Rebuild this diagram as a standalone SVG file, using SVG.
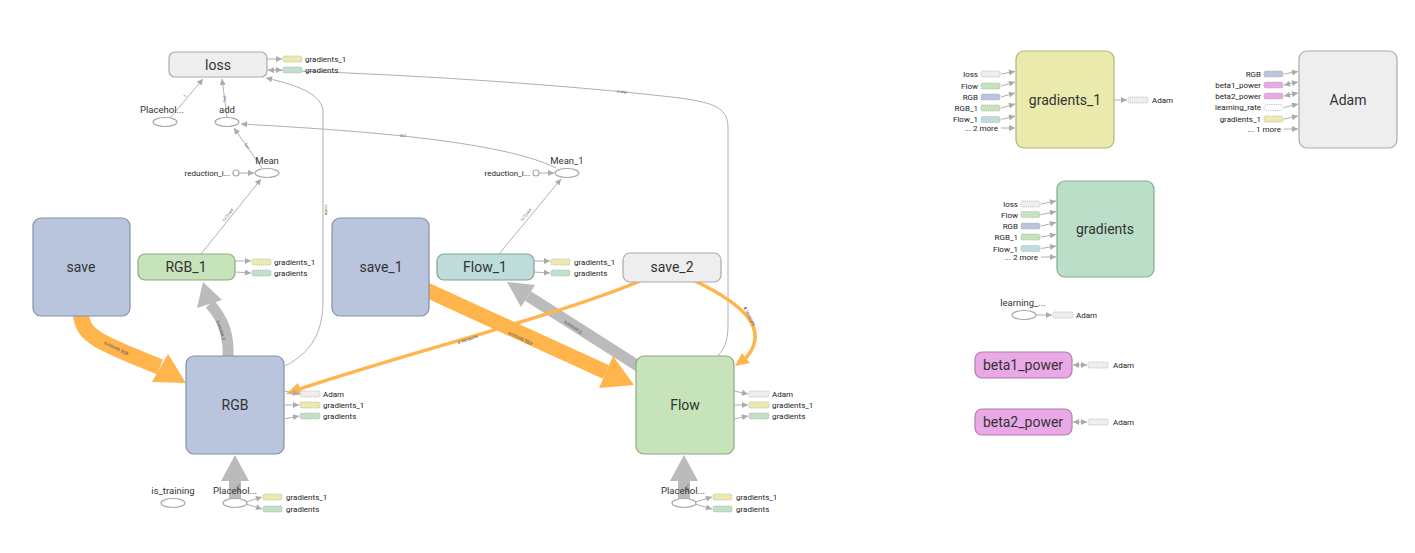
<svg xmlns="http://www.w3.org/2000/svg" width="1415" height="553" viewBox="0 0 1415 553">
<style>
text{font-family:Roboto,"Liberation Sans",sans-serif;fill:#333}
.nl{font-size:14px;text-anchor:middle}
.sl{font-size:9.5px;text-anchor:middle}
.bl{font-size:8px;fill:#222}
.il{font-size:8px;text-anchor:end;fill:#222}
.el{font-size:5px;fill:#555;text-anchor:middle}
.tiny{font-size:4px;fill:#666;text-anchor:middle}
.blue{fill:#b9c4dd;stroke:#8790a8;stroke-width:1.2}
.green{fill:#c7e3b9;stroke:#8dab7c;stroke-width:1.2}
.teal{fill:#bedcda;stroke:#7fa2a0;stroke-width:1.2}
.grey{fill:#eeeeee;stroke:#ababab;stroke-width:1.2}
.yel{fill:#eaeaad;stroke:#b4b47b;stroke-width:1.2}
.mint{fill:#badec8;stroke:#88a991;stroke-width:1.2}
.pink{fill:#eaa9e6;stroke:#b07dab;stroke-width:1.2}
.op{fill:#fff;stroke:#aaa;stroke-width:1.2}
.bd{stroke:#aaa;stroke-width:0.7;stroke-dasharray:1.2,1}
.bY{fill:#ebebae}.bG{fill:#bfe0c9}.bE{fill:#eeeeee}.bB{fill:#b9c4dd}.bL{fill:#c7e3b9}.bT{fill:#bedcda}.bP{fill:#eaa9e6}.bW{fill:#fff}
.e{fill:none;stroke:#b0b0b0;stroke-width:1;marker-end:url(#a)}
.e2{fill:none;stroke:#b0b0b0;stroke-width:1;marker-end:url(#a);marker-start:url(#a)}
.thin{fill:none;stroke:#bdbdbd;stroke-width:1}
.og{fill:none;stroke:#ffb54c}
.ogf{fill:#ffb54c}
.gy{fill:none;stroke:#bbbbbb}
.gyf{fill:#bbbbbb}
</style>
<defs>
<marker id="a" viewBox="0 0 10 10" refX="10" refY="5" markerWidth="7" markerHeight="6" markerUnits="userSpaceOnUse" orient="auto-start-reverse"><path d="M0,0 L10,5 L0,10 z" fill="#aaa"/></marker>
</defs>

<g id="connectors">
<!-- top area -->
<path class="e" d="M170,118 L203,79"/>
<text class="tiny" transform="translate(186,97) rotate(-50)">1</text>
<path class="e" d="M227,117 L222,79"/>
<text class="tiny" transform="translate(226,99) rotate(-84)">1x5</text>
<path class="e" d="M262,168 L234,128"/>
<text class="tiny" transform="translate(246,147) rotate(56)">5x1</text>
<path class="e" d="M556,168 C 500,140 350,130 241,124"/>
<text class="tiny" transform="translate(403,137) rotate(5)">5x1</text>
<path class="e" d="M239,173 L254,173"/>
<path class="e" d="M539,173 L554,173"/>
<path class="e" d="M201,254 L261,179"/>
<text class="tiny" transform="translate(229,216) rotate(-51)">1x72x64</text>
<path class="e" d="M499,254 L561,179"/>
<text class="tiny" transform="translate(527,216) rotate(-51)">1x72x64</text>
<!-- RGB -> loss -->
<path class="e" d="M285,366 C 312,352 323,332 323,300 L 323,112 C 323,96 302,86 266,78"/>
<text class="tiny" transform="translate(325,210) rotate(90)">scalar</text>
<!-- Flow -> loss -->
<path class="e" d="M718,356 C 726,346 728,338 728,325 L 728,128 C 728,108 715,103 680,98 C 560,84 400,74 268,70"/>
<text class="tiny" transform="translate(622,93) rotate(7)">scalar</text>
<!-- save -> RGB -->
<path class="og" stroke-width="16" d="M81,314 C 82,336 100,343 160,367"/>
<polygon class="ogf" points="186,383 152,382 168,354"/>
<text class="el" transform="translate(117,347) rotate(205)">456 tensors</text>
<!-- RGB -> RGB_1 -->
<path class="gy" stroke-width="11" d="M228,358 C 229,335 224,320 210,304"/>
<polygon class="gyf" points="203,282 222,300 197,308"/>
<text class="el" transform="translate(222,330) rotate(-108)">3 tensors</text>
<!-- save_1 -> Flow -->
<path class="og" stroke-width="15" d="M420,287 L606,372"/>
<polygon class="ogf" points="634,385 599,388 613,356"/>
<text class="el" transform="translate(521,337) rotate(204)">456 tensors</text>
<!-- Flow -> Flow_1 -->
<path class="gy" stroke-width="11" d="M660,380 L528,296"/>
<polygon class="gyf" points="507,282 535,285 521,307"/>
<text class="el" transform="translate(574,326) rotate(212)">3 tensors</text>
<!-- save_2 -> RGB -->
<path class="og" stroke-width="3.5" d="M640,281 C 560,315 400,355 300,389"/>
<polygon class="ogf" points="286,394 302,395 298,383"/>
<text class="el" transform="translate(468,341) rotate(-19)">4 tensors</text>
<!-- save_2 -> Flow -->
<path class="og" stroke-width="3.5" d="M695,281 C 745,305 770,330 746,358"/>
<polygon class="ogf" points="735,366 750,363 742,353"/>
<text class="el" transform="translate(748,317) rotate(62)">4 tensors</text>
<!-- Placeholders -> RGB / Flow -->
<path class="gy" stroke-width="12" d="M235,500 L235,478"/>
<polygon class="gyf" points="235,455 221,481 249,481"/>
<text class="tiny" transform="translate(237,488) rotate(90)">?x64</text>
<path class="gy" stroke-width="12" d="M684,500 L684,478"/>
<polygon class="gyf" points="684,455 670,481 698,481"/>
<text class="tiny" transform="translate(686,488) rotate(90)">?x64</text>
</g>

<g id="loss">
<rect class="grey" x="169" y="52" width="98" height="25" rx="6"/>
<text class="nl" x="218" y="69.5">loss</text>
<path class="e" d="M267,59 L282,59"/>
<rect class="bd bY" x="283" y="56" width="19" height="6" rx="1.5"/>
<text class="bl" x="305" y="62">gradients_1</text>
<path class="e" d="M267,70 L282,70"/>
<rect class="bd bG" x="283" y="67" width="19" height="6" rx="1.5"/>
<text class="bl" x="305" y="73">gradients</text>
</g>
<g id="Placeholder_top">
<text class="sl" x="162" y="113">Placehol...</text>
<ellipse class="op" cx="165" cy="122" rx="12" ry="4.5"/>
</g>
<g id="add">
<text class="sl" x="227" y="113">add</text>
<ellipse class="op" cx="227" cy="122" rx="12" ry="4.5"/>
</g>
<g id="Mean">
<text class="sl" x="267" y="164">Mean</text>
<ellipse class="op" cx="267" cy="173" rx="12" ry="4.5"/>
<text class="il" x="230" y="176">reduction_i...</text>
<circle class="op" cx="236" cy="173" r="3"/>
</g>
<g id="Mean_1">
<text class="sl" x="567" y="164">Mean_1</text>
<ellipse class="op" cx="567" cy="173" rx="12" ry="4.5"/>
<text class="il" x="530" y="176">reduction_i...</text>
<circle class="op" cx="536" cy="173" r="3"/>
</g>

<g id="save">
<rect class="blue" x="33" y="218" width="97" height="98" rx="8"/>
<text class="nl" x="81" y="272">save</text>
</g>
<g id="RGB_1">
<rect class="green" x="138" y="254" width="97" height="26" rx="7"/>
<text class="nl" x="186" y="272">RGB_1</text>
<path class="e" d="M235,261 L251,261"/>
<rect class="bd bY" x="252" y="259" width="19" height="6" rx="1.5"/>
<text class="bl" x="274" y="265">gradients_1</text>
<path class="e" d="M235,272 L251,273"/>
<rect class="bd bG" x="252" y="270" width="19" height="6" rx="1.5"/>
<text class="bl" x="274" y="276">gradients</text>
</g>
<g id="save_1">
<rect class="blue" x="332" y="218" width="97" height="98" rx="8"/>
<text class="nl" x="381" y="272">save_1</text>
</g>
<g id="Flow_1">
<rect class="teal" x="437" y="254" width="97" height="26" rx="7"/>
<text class="nl" x="485" y="272">Flow_1</text>
<path class="e" d="M534,261 L550,261"/>
<rect class="bd bY" x="551" y="259" width="19" height="6" rx="1.5"/>
<text class="bl" x="574" y="265">gradients_1</text>
<path class="e" d="M534,272 L550,273"/>
<rect class="bd bG" x="551" y="270" width="19" height="6" rx="1.5"/>
<text class="bl" x="574" y="276">gradients</text>
</g>
<g id="save_2">
<rect class="grey" x="623" y="253" width="98" height="29" rx="7"/>
<text class="nl" x="672" y="272">save_2</text>
</g>

<g id="RGB">
<rect class="blue" x="186" y="356" width="98" height="98" rx="8"/>
<text class="nl" x="235" y="410">RGB</text>
<path class="e" d="M284,391 L299,394"/>
<rect class="bd bE" x="300" y="391" width="20" height="6" rx="1.5"/>
<text class="bl" x="323" y="397">Adam</text>
<path class="e" d="M284,405 L299,405"/>
<rect class="bd bY" x="300" y="402" width="20" height="6" rx="1.5"/>
<text class="bl" x="323" y="408">gradients_1</text>
<path class="e" d="M284,419 L299,416"/>
<rect class="bd bG" x="300" y="413" width="20" height="6" rx="1.5"/>
<text class="bl" x="323" y="419">gradients</text>
</g>
<g id="is_training">
<text class="sl" x="173" y="494">is_training</text>
<ellipse class="op" cx="173" cy="503" rx="12" ry="4.5"/>
</g>
<g id="Placeholder_RGB">
<text class="sl" x="235" y="494">Placehol...</text>
<ellipse class="op" cx="235" cy="503" rx="12" ry="4.5"/>
<path class="e" d="M246,502 L262,497"/>
<rect class="bd bY" x="263" y="494" width="19" height="6" rx="1.5"/>
<text class="bl" x="286" y="500">gradients_1</text>
<path class="e" d="M246,504 L262,509"/>
<rect class="bd bG" x="263" y="506" width="19" height="6" rx="1.5"/>
<text class="bl" x="286" y="512">gradients</text>
</g>

<g id="Flow">
<rect class="green" x="636" y="356" width="98" height="98" rx="8"/>
<text class="nl" x="685" y="410">Flow</text>
<path class="e" d="M734,391 L748,394"/>
<rect class="bd bE" x="749" y="391" width="20" height="6" rx="1.5"/>
<text class="bl" x="772" y="397">Adam</text>
<path class="e" d="M734,405 L748,405"/>
<rect class="bd bY" x="749" y="402" width="20" height="6" rx="1.5"/>
<text class="bl" x="772" y="408">gradients_1</text>
<path class="e" d="M734,419 L748,416"/>
<rect class="bd bG" x="749" y="413" width="20" height="6" rx="1.5"/>
<text class="bl" x="772" y="419">gradients</text>
</g>
<g id="Placeholder_Flow">
<text class="sl" x="683" y="494">Placehol...</text>
<ellipse class="op" cx="684" cy="503" rx="12" ry="4.5"/>
<path class="e" d="M695,502 L712,497"/>
<rect class="bd bY" x="713" y="494" width="19" height="6" rx="1.5"/>
<text class="bl" x="736" y="500">gradients_1</text>
<path class="e" d="M695,504 L712,509"/>
<rect class="bd bG" x="713" y="506" width="19" height="6" rx="1.5"/>
<text class="bl" x="736" y="512">gradients</text>
</g>

<g id="gradients_1">
<rect class="yel" x="1016" y="51" width="98" height="97" rx="8"/>
<text class="nl" x="1065" y="105">gradients_1</text>
<text class="il" x="978" y="77">loss</text><rect class="bd bE" x="981" y="71" width="19" height="6" rx="1.5"/><path class="e" d="M1001,74 L1015,71.5"/>
<text class="il" x="978" y="89">Flow</text><rect class="bd bL" x="981" y="83" width="19" height="6" rx="1.5"/><path class="e" d="M1001,86 L1015,82"/>
<text class="il" x="978" y="100">RGB</text><rect class="bd bB" x="981" y="94" width="19" height="6" rx="1.5"/><path class="e" d="M1001,97 L1015,93"/>
<text class="il" x="978" y="111">RGB_1</text><rect class="bd bL" x="981" y="105" width="19" height="6" rx="1.5"/><path class="e" d="M1001,108 L1015,104"/>
<text class="il" x="978" y="122">Flow_1</text><rect class="bd bT" x="981" y="116.5" width="19" height="6" rx="1.5"/><path class="e" d="M1001,119.5 L1015,116"/>
<text class="il" x="998" y="131">... 2 more</text><path class="e" d="M1001,128 L1015,128"/>
<path class="e" d="M1114,100 L1127,100"/>
<rect class="bd bE" x="1128" y="97" width="20" height="6" rx="1.5"/>
<text class="bl" x="1152" y="103">Adam</text>
</g>

<g id="Adam">
<rect class="grey" x="1299" y="51" width="98" height="97" rx="8"/>
<text class="nl" x="1348" y="105">Adam</text>
<text class="il" x="1261" y="77">RGB</text><rect class="bd bB" x="1264" y="71" width="19" height="6" rx="1.5"/><path class="e" d="M1284,74 L1298,71.5"/>
<text class="il" x="1261" y="88">beta1_power</text><rect class="bd bP" x="1264" y="82" width="19" height="6" rx="1.5"/><path class="e2" d="M1284,85 L1298,82"/>
<text class="il" x="1261" y="99">beta2_power</text><rect class="bd bP" x="1264" y="93" width="19" height="6" rx="1.5"/><path class="e2" d="M1284,96 L1298,93"/>
<text class="il" x="1261" y="110">learning_rate</text><rect class="bd bW" x="1264" y="104.5" width="19" height="6" rx="3"/><path class="e" d="M1284,107.5 L1298,104"/>
<text class="il" x="1261" y="122">gradients_1</text><rect class="bd bY" x="1264" y="116" width="19" height="6" rx="1.5"/><path class="e" d="M1284,119 L1298,116"/>
<text class="il" x="1281" y="132">... 1 more</text><path class="e" d="M1284,129 L1298,129"/>
</g>

<g id="gradients">
<rect class="mint" x="1057" y="181" width="97" height="96" rx="8"/>
<text class="nl" x="1105" y="234">gradients</text>
<text class="il" x="1018" y="207">loss</text><rect class="bd bE" x="1021" y="201" width="19" height="6" rx="1.5"/><path class="e" d="M1041,204 L1056,201"/>
<text class="il" x="1018" y="217.5">Flow</text><rect class="bd bL" x="1021" y="211.5" width="19" height="6" rx="1.5"/><path class="e" d="M1041,214.5 L1056,211.5"/>
<text class="il" x="1018" y="229">RGB</text><rect class="bd bB" x="1021" y="223" width="19" height="6" rx="1.5"/><path class="e" d="M1041,226 L1056,222.5"/>
<text class="il" x="1018" y="240">RGB_1</text><rect class="bd bL" x="1021" y="234" width="19" height="6" rx="1.5"/><path class="e" d="M1041,237 L1056,234.5"/>
<text class="il" x="1018" y="251.5">Flow_1</text><rect class="bd bT" x="1021" y="245.5" width="19" height="6" rx="1.5"/><path class="e" d="M1041,248.5 L1056,246"/>
<text class="il" x="1038" y="260">... 2 more</text><path class="e" d="M1041,257 L1056,257"/>
</g>

<g id="learning_rate">
<text class="sl" x="1023" y="306">learning_...</text>
<ellipse class="op" cx="1024" cy="315" rx="12" ry="4.5"/>
<path class="e" d="M1036,315 L1052,315"/>
<rect class="bd bE" x="1053" y="312" width="20" height="6" rx="1.5"/>
<text class="bl" x="1076" y="318">Adam</text>
</g>
<g id="beta1_power">
<rect class="pink" x="975" y="352" width="97" height="26" rx="7"/>
<text class="nl" x="1023" y="370">beta1_power</text>
<path class="e2" d="M1073,365 L1087,365"/>
<rect class="bd bE" x="1088" y="362" width="20" height="6" rx="1.5"/>
<text class="bl" x="1113" y="368">Adam</text>
</g>
<g id="beta2_power">
<rect class="pink" x="975" y="409" width="97" height="26" rx="7"/>
<text class="nl" x="1023" y="427">beta2_power</text>
<path class="e2" d="M1073,422 L1087,422"/>
<rect class="bd bE" x="1088" y="419" width="20" height="6" rx="1.5"/>
<text class="bl" x="1113" y="425">Adam</text>
</g>
</svg>
